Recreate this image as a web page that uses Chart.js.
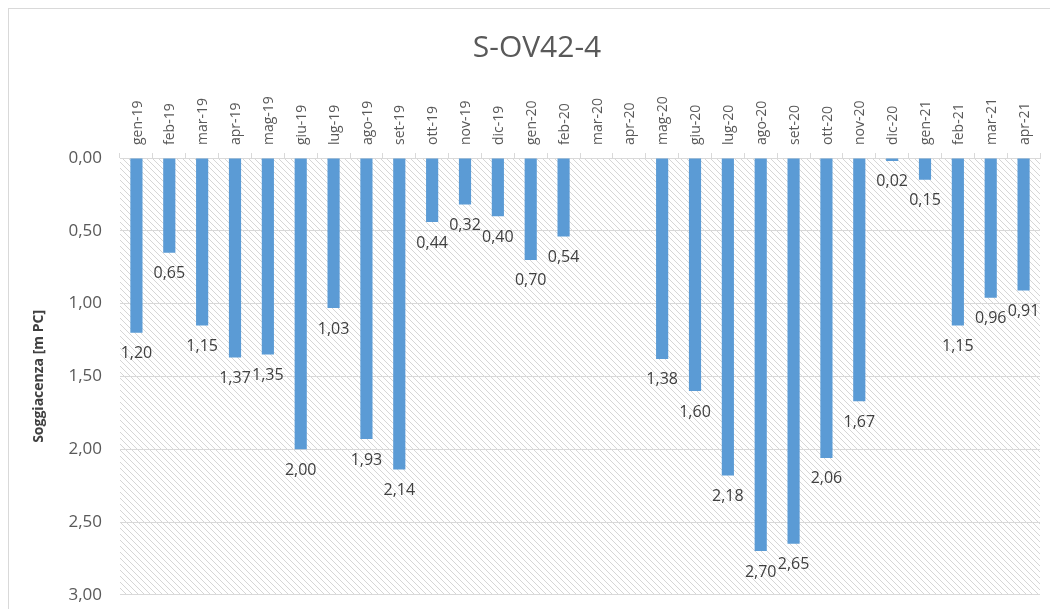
<!DOCTYPE html>
<html>
<head>
<meta charset="utf-8">
<script src="https://cdn.jsdelivr.net/npm/chart.js@4"></script>
<style>
  html, body { margin: 0; padding: 0; background: #fff; overflow: hidden; }
  #frame { position: absolute; left: 8px; top: 8px; width: 1060px; height: 620px; border: 1px solid #d9d9d9; box-sizing: border-box; }
  #wrap { position: absolute; left: 0; top: 0; width: 1050px; height: 623px; }
</style>
</head>
<body>
<div id="frame"></div>
<div id="wrap"><canvas id="chart"></canvas></div>
<script>
// months on the x axis
const months = ['gen-19', 'feb-19', 'mar-19', 'apr-19', 'mag-19', 'giu-19', 'lug-19', 'ago-19', 'set-19', 'ott-19', 'nov-19', 'dic-19',
  'gen-20', 'feb-20', 'mar-20', 'apr-20', 'mag-20', 'giu-20', 'lug-20', 'ago-20', 'set-20', 'ott-20', 'nov-20', 'dic-20',
  'gen-21', 'feb-21', 'mar-21', 'apr-21'];
// soggiacenza, m from ground level (null = no reading)
const depth = [1.20, 0.65, 1.15, 1.37, 1.35, 2.00, 1.03, 1.93, 2.14, 0.44, 0.32, 0.40,
  0.70, 0.54, null, null, 1.38, 1.60, 2.18, 2.70, 2.65, 2.06, 1.67, 0.02,
  0.15, 1.15, 0.96, 0.91];
const yTicks = [0, 0.5, 1, 1.5, 2, 2.5, 3];
const chartTitle = 'S-OV42-4';

const fmt = v => v.toFixed(2).replace('.', ',');
const txt = '#595959';
const font = '"Open Sans", "DejaVu Sans", sans-serif';

// diagonal hatch for the plot area
function hatch() {
  const c = document.createElement('canvas');
  c.width = 6; c.height = 6;
  const g = c.getContext('2d');
  g.fillStyle = '#fff';
  g.fillRect(0, 0, 6, 6);
  g.strokeStyle = '#d6d6d6';
  g.lineWidth = 1;
  g.beginPath();
  g.moveTo(-1, -1); g.lineTo(7, 7);
  g.moveTo(-1, 5); g.lineTo(1, 7);
  g.moveTo(5, -1); g.lineTo(7, 1);
  g.stroke();
  return g.createPattern(c, 'repeat');
}

const areaBg = {
  id: 'areaBg',
  beforeDraw(chart) {
    const { ctx, chartArea: a } = chart;
    ctx.save();
    ctx.fillStyle = hatch();
    ctx.fillRect(a.left, a.top, a.right - a.left, a.bottom - a.top);
    // title, a bit right of the canvas centre like the original
    ctx.font = '30px ' + font;
    ctx.fillStyle = txt;
    ctx.textAlign = 'center';
    ctx.textBaseline = 'middle';
    ctx.fillText(chartTitle, 537, 48);
    ctx.restore();
  }
};

const barLabels = {
  id: 'barLabels',
  afterDatasetsDraw(chart) {
    const ctx = chart.ctx;
    const meta = chart.getDatasetMeta(0);
    ctx.save();
    ctx.font = '16px ' + font;
    ctx.fillStyle = '#404040';
    ctx.textAlign = 'center';
    ctx.textBaseline = 'middle';
    meta.data.forEach((bar, i) => {
      const v = depth[i];
      if (v == null) return;
      ctx.fillText(fmt(v), bar.x, bar.y + 21);
    });
    ctx.restore();
  }
};

new Chart(document.getElementById('chart'), {
  type: 'bar',
  data: {
    labels: months,
    datasets: [{
      label: 'Soggiacenza',
      data: depth,
      backgroundColor: '#5b9bd5',
      borderWidth: 0,
      barPercentage: 0.74,
      categoryPercentage: 0.5
    }]
  },
  options: {
    responsive: true,
    maintainAspectRatio: false,
    animation: false,
    layout: { padding: { left: 0, right: 10, top: 63, bottom: 0 } },
    scales: {
      x: {
        position: 'top',
        grid: { display: true, drawOnChartArea: false, tickLength: 5, color: '#d9d9d9', offset: true },
        border: { display: true, color: '#d9d9d9' },
        ticks: { color: txt, font: { family: font, size: 14 }, minRotation: 90, maxRotation: 90, autoSkip: false, padding: 8, labelOffset: 18 },
        afterFit(s) { s.height = 95; }
      },
      y: {
        reverse: true,
        min: 0,
        max: 3,
        afterBuildTicks(s) { s.ticks = yTicks.map(v => ({ value: v })); },
        grid: { color: '#d9d9d9', drawTicks: false },
        border: { display: false },
        ticks: { color: txt, font: { family: font, size: 17 }, padding: 18, callback: v => fmt(v) },
        title: { display: true, text: 'Soggiacenza [m PC]', color: '#404040', font: { family: font, size: 14, weight: 'bold' }, padding: { top: 31, bottom: 0 } },
        afterFit(s) { s.width = 120; }
      }
    },
    plugins: {
      legend: { display: false },
      tooltip: { enabled: false },
      title: { display: false }
    }
  },
  plugins: [areaBg, barLabels]
});
</script>
</body>
</html>
